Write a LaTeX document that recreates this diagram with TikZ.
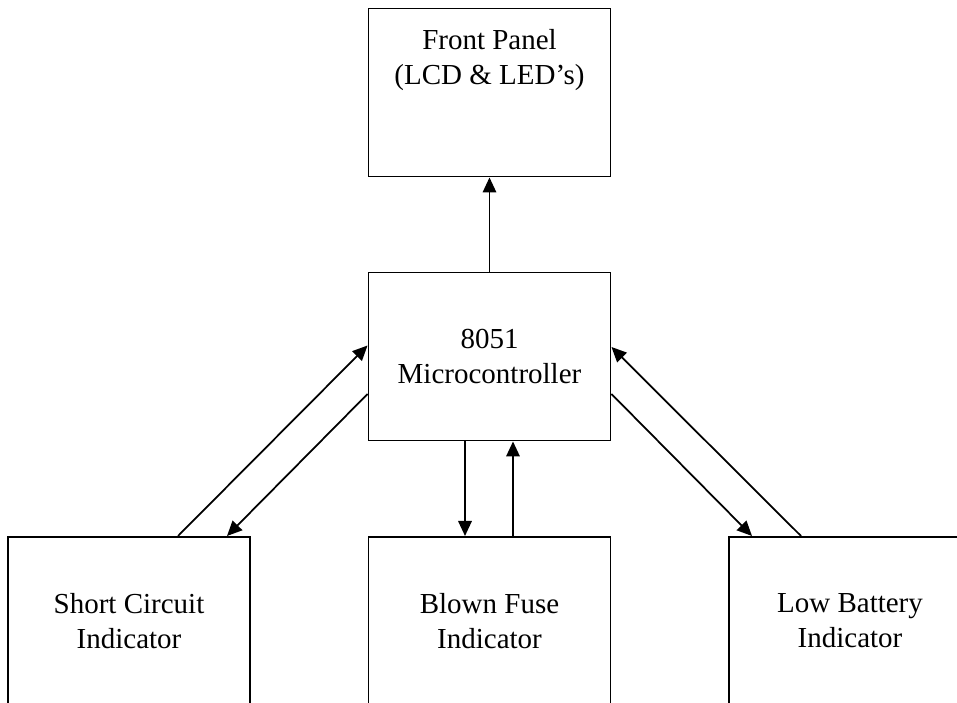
\documentclass[tikz,border=0pt]{standalone}
\usepackage{fontspec}
\setmainfont{Liberation Serif}
\usepackage{tikz}
\usetikzlibrary{arrows.meta,positioning}

\begin{document}
\begin{tikzpicture}[
    box/.style={
        draw,
        line width=1.1pt,
        minimum width=4.84cm,
        minimum height=3.36cm,
        inner sep=0pt,
        align=center,
        font=\fontsize{16.5}{19.9}\selectfont
    },
    lbl/.style={
        align=center,
        inner sep=0pt,
        font=\fontsize{16.5}{19.9}\selectfont
    },
    arrow/.style={
        -{Triangle[length=0.3cm,width=0.27cm]},
        line width=1pt
    }
]

\useasboundingbox (0,0) rectangle (19.14,14.06);

% ==================================================
% Boxes
% ==================================================

\node[box] (panel) at (9.79,12.21) {};

\node[lbl, anchor=north] (paneltext) at ([yshift=-0.44cm]panel.north)
{Front Panel\\(LCD \& LED's)};


\node[box] (mcu) at (9.79,6.93)
{8051\\Microcontroller};


\node[box, anchor=north] (short) at (2.58,3.34)
{Short Circuit\\Indicator};


\node[box, anchor=north] (fuse) at (9.79,3.34)
{Blown Fuse\\Indicator};


\node[box, anchor=north] (battery) at (17.0,3.34)
{Low Battery\\Indicator};


% ==================================================
% Arrows
% ==================================================

\draw[arrow] (mcu.north) -- (panel.south);

% Left pair
\draw[arrow] ([xshift=0.98cm]short.north) -- ([yshift=0.22cm]mcu.west);
\draw[arrow] ([yshift=-0.75cm]mcu.west) -- ([xshift=1.96cm]short.north);

% Middle pair
\draw[arrow] ([xshift=-0.49cm]mcu.south) -- ([xshift=-0.49cm]fuse.north);
\draw[arrow] ([xshift=0.47cm]fuse.north) -- ([xshift=0.47cm]mcu.south);

% Right pair
\draw[arrow] ([yshift=-0.75cm]mcu.east) -- ([xshift=-1.96cm]battery.north);
\draw[arrow] ([xshift=-0.98cm]battery.north) -- ([yshift=0.19cm]mcu.east);

\end{tikzpicture}
\end{document}
